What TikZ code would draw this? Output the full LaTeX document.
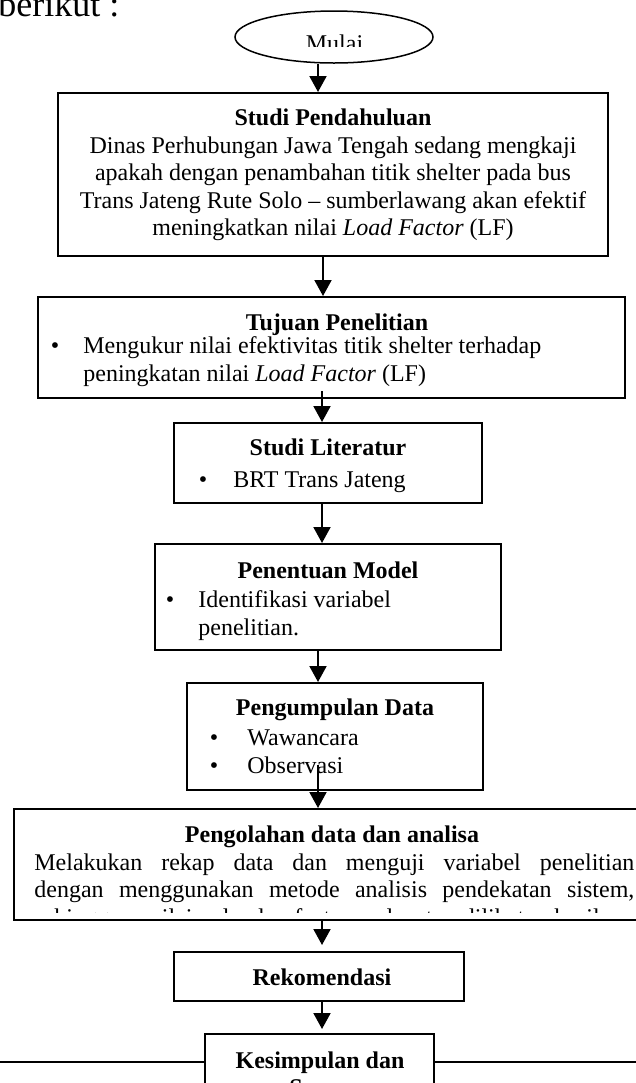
\documentclass[tikz,border=0pt]{standalone}
\usepackage{fontspec}
\setmainfont{Liberation Serif}
\usetikzlibrary{shapes.geometric}
\usetikzlibrary{arrows.meta}

\begin{document}
\begin{tikzpicture}[x=0.5pt,y=-0.5pt,
  box/.style={draw,line width=1pt,rectangle,inner sep=0pt},
  arr/.style={line width=1pt,-{Triangle[length=8pt,width=8.5pt]}},
  txt/.style={inner sep=0pt,anchor=base,font=\fontsize{12}{13.8}\selectfont},
  ttl/.style={txt,font=\fontsize{12}{13.8}\selectfont\bfseries}]

\useasboundingbox (0,0) rectangle (636,1083);
\clip (0,0) rectangle (636,1083);

\node[txt,font=\fontsize{18}{21}\selectfont,anchor=base west] (intro) at (-2,16) {berikut :};

% start
\node[draw,line width=0.75pt,ellipse,minimum width=99pt,minimum height=26pt,inner sep=0pt] (ell) at (334,37) {};
\begin{scope}
\clip (235,0) rectangle (433,46);
\node[txt] (mulai) at (334.5,51) {Mulai};
\end{scope}

% boxes
\node[box,minimum width=275pt,minimum height=81.5pt] (s1) at (333,174.5) {};
\node[ttl] (s1t) at (333,125) {Studi Pendahuluan};
\node[txt] (s1a) at (333,153) {Dinas Perhubungan Jawa Tengah sedang mengkaji};
\node[txt] (s1b) at (333,180) {apakah dengan penambahan titik shelter pada bus};
\node[txt] (s1c) at (333,208) {Trans Jateng Rute Solo -- sumberlawang akan efektif};
\node[txt] (s1d) at (333,235) {meningkatkan nilai \textit{Load Factor} (LF)};

\node[box,minimum width=293.5pt,minimum height=50.5pt] (s2) at (331.5,347.5) {};
\node[ttl] (s2t) at (337,330) {Tujuan Penelitian};
\node[txt] (s2d) at (55,353) {\textbullet};
\node[txt,anchor=base west] (s2a) at (83,353) {Mengukur nilai efektivitas titik shelter terhadap};
\node[txt,anchor=base west] (s2b) at (83,381) {peningkatan nilai \textit{Load Factor} (LF)};

\node[box,minimum width=154pt,minimum height=40pt] (s3) at (328,463) {};
\node[ttl] (s3t) at (328,455) {Studi Literatur};
\node[txt] (s3d) at (203,487) {\textbullet};
\node[txt,anchor=base west] (s3a) at (233,487) {BRT Trans Jateng};

\node[box,minimum width=173pt,minimum height=53pt] (s4) at (328,597) {};
\node[ttl] (s4t) at (328,578) {Penentuan Model};
\node[txt] (s4d) at (170,607) {\textbullet};
\node[txt,anchor=base west] (s4a) at (198,607) {Identifikasi variabel};
\node[txt,anchor=base west] (s4b) at (198,635) {penelitian.};

\node[box,minimum width=148pt,minimum height=53.5pt] (s5) at (335,736.5) {};
\node[ttl] (s5t) at (335,715) {Pengumpulan Data};
\node[txt] (s5d) at (214,745) {\textbullet};
\node[txt,anchor=base west] (s5a) at (247,745) {Wawancara};
\node[txt] (s5e) at (214,773) {\textbullet};
\node[txt,anchor=base west] (s5b) at (247,773) {Observasi};

\node[box,minimum width=318pt,minimum height=55.5pt] (s6) at (332,864.5) {};
\node[ttl] (s6t) at (332,842) {Pengolahan data dan analisa};
\node[txt,anchor=base west] (s6a) at (34,870) {\makebox[300pt][s]{Melakukan rekap data dan menguji variabel penelitian}};
\node[txt,anchor=base west] (s6b) at (34,897) {\makebox[300pt][s]{dengan menggunakan metode analisis pendekatan sistem,}};
\begin{scope}
\clip (16,880) rectangle (636,912);
\node[txt,anchor=base west] (s6c) at (34,925) {\makebox[300pt][s]{sehingga nilai load factor dapat dilihat hasilnya}};
\end{scope}

\node[box,minimum width=145pt,minimum height=24.5pt] (s7) at (319,976.5) {};
\node[ttl] (s7t) at (322,985) {Rekomendasi};

\node[box,minimum width=114.5pt,minimum height=43pt] (s8) at (319.5,1077) {};
\node[ttl] (s8t) at (320,1068) {Kesimpulan dan};
\node[ttl] (s8b) at (320,1095) {Saran};

% line across page
\coordinate (hl) at (0,1062);
\draw[line width=0.75pt] (hl) -- (hl -| s8.west);
\draw[line width=0.75pt] (hl -| s8.east) -- (636,1062);

% arrows
\draw[arr] ([xshift=-8pt]ell.south) -- ([xshift=-8pt]ell.south |- s1.north);
\draw[arr] ([xshift=-5pt]s1.south) -- ([xshift=-5pt]s1.south |- s2.north);
\coordinate (a3) at (322,391);
\draw[arr] (a3) -- (a3 |- s3.north);
\draw[arr] ([xshift=-3pt]s3.south) -- ([xshift=-3pt]s3.south |- s4.north);
\draw[arr] ([xshift=-5pt]s4.south) -- ([xshift=-5pt]s4.south |- s5.north);
\coordinate (a6) at (318,765);
\draw[arr] (a6) -- (a6 |- s6.north);
\draw[arr,shorten >=3pt] ([xshift=-5pt]s6.south) -- ([xshift=-5pt]s6.south |- s7.north);
\draw[arr,shorten >=2pt] ([xshift=1.5pt]s7.south) -- ([xshift=1.5pt]s7.south |- s8.north);

\end{tikzpicture}
\end{document}
